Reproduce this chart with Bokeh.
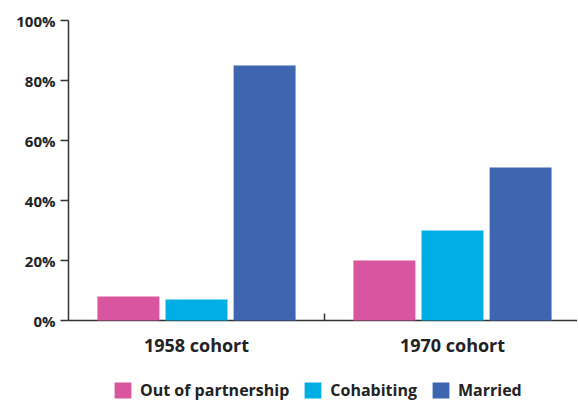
from bokeh.plotting import figure
from bokeh.layouts import column
from bokeh.models import (ColumnDataSource, FixedTicker, Legend, LegendItem, Range1d)
from bokeh.transform import dodge
from bokeh.embed import file_html
from bokeh.resources import INLINE

cohorts = ["1958 cohort", "1970 cohort"]
series = ["Out of partnership", "Cohabiting", "Married"]
out_of_partnership = [8, 20]
cohabiting = [7, 30]
married = [85, 51]
y_ticks = [0, 20, 40, 60, 80, 100]

colors = ["#D9559D", "#00AEE6", "#3D65B0"]
FONT = "Open Sans"
TXT = "#222222"
AX = "#333333"

centers = [i + 0.5 for i in range(len(cohorts))]
src = ColumnDataSource(dict(x=centers, a=out_of_partnership, b=cohabiting, c=married))

W = 577
FW = W - 68
p = figure(width=W, height=365, output_backend="svg", toolbar_location=None,
           x_range=Range1d(0, 2 * FW / 512), y_range=Range1d(0, 100),
           min_border_left=68, min_border_top=20, min_border_right=0, min_border_bottom=45)
p.outline_line_color = None
p.grid.grid_line_color = None

bw = 0.242
step = 0.266
for i, (field, col) in enumerate(zip(["a", "b", "c"], colors)):
    p.vbar(x=dodge("x", (i - 1) * step, range=p.x_range), top=field, width=bw,
           source=src, color=col, line_color=None, level="annotation")

# y axis
p.yaxis.axis_label = None
p.yaxis.ticker = FixedTicker(ticks=y_ticks)
p.yaxis.major_label_overrides = {t: f"{t}%" for t in y_ticks}
p.yaxis.major_tick_out = 8
p.yaxis.major_tick_in = 0
p.yaxis.minor_tick_line_color = None
p.yaxis.axis_line_color = AX
p.yaxis.major_tick_line_color = AX
p.yaxis.axis_line_width = 1.5
p.yaxis.major_tick_line_width = 1.5
p.yaxis.major_label_text_font = FONT
p.yaxis.major_label_text_font_style = "bold"
p.yaxis.major_label_text_font_size = "15px"
p.yaxis.major_label_text_color = TXT
p.yaxis.major_label_standoff = 5

# x axis
p.xaxis.axis_label = None
p.xaxis.ticker = FixedTicker(ticks=centers + [1])
p.xaxis.major_label_overrides = {0.5: cohorts[0], 1: "", 1.5: cohorts[1]}
p.xaxis.major_tick_in = 7
p.xaxis.major_tick_out = 0
p.xaxis.minor_tick_line_color = None
p.xaxis.axis_line_color = AX
p.xaxis.major_tick_line_color = AX
p.xaxis.axis_line_width = 1.5
p.xaxis.major_tick_line_width = 1.5
p.xaxis.major_label_text_font = FONT
p.xaxis.major_label_text_font_style = "bold"
p.xaxis.major_label_text_font_size = "18px"
p.xaxis.major_label_text_color = TXT
p.xaxis.major_label_standoff = 12

# legend strip (swatch renderers sit outside the visible range)
lg = figure(width=W, height=38, output_backend="svg", toolbar_location=None,
            x_range=Range1d(0, 1), y_range=Range1d(0, 1),
            x_axis_type=None, y_axis_type=None,
            min_border_left=0, min_border_top=0, min_border_right=0, min_border_bottom=0)
lg.outline_line_color = None
lg.grid.grid_line_color = None
swatches = [lg.vbar(x=[-5], top=[-5], bottom=[-6], width=0.1, color=c, line_color=None)
            for c in colors]
legend = Legend(items=[LegendItem(label=s, renderers=[r]) for s, r in zip(series, swatches)],
                orientation="horizontal", location=(44, 2),
                label_text_font=FONT, label_text_font_style="bold",
                label_text_font_size="16px", label_text_color=TXT,
                glyph_width=21, glyph_height=20, spacing=13, label_standoff=7,
                label_height=20, padding=0, margin=0,
                border_line_color=None, background_fill_alpha=0)
lg.add_layout(legend, "center")

layout = column(p, lg, spacing=0)
open("out.html", "w").write(file_html(layout, INLINE))
